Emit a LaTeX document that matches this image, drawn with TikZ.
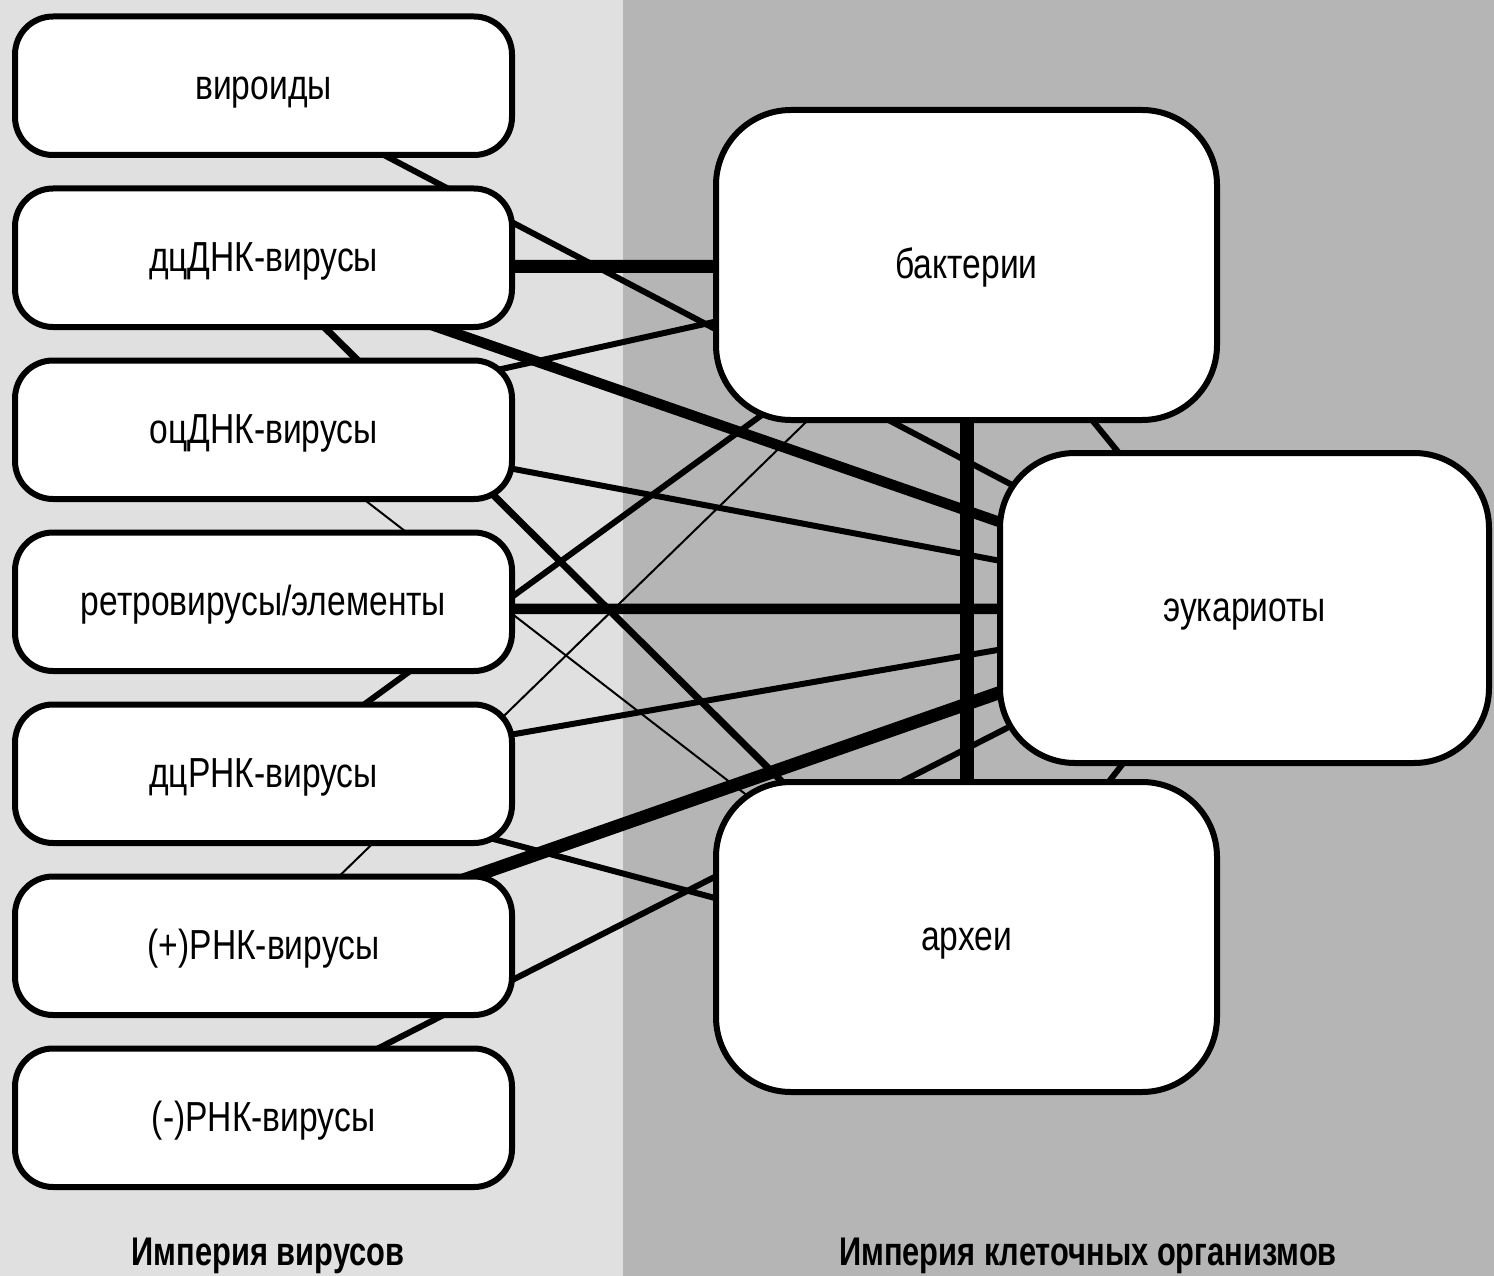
\documentclass[tikz,border=0pt]{standalone}
\usepackage{fontspec}
\setmainfont{Liberation Sans}[FakeStretch=0.80]
\newfontfamily\empirefont{Liberation Sans}[FakeStretch=0.77]
\pgfdeclarelayer{panels}
\pgfdeclarelayer{links}
\pgfsetlayers{panels,links,main}
\definecolor{virusbg}{RGB}{224,224,224}
\definecolor{cellbg}{RGB}{181,181,181}
\tikzset{
  virbox/.style={draw=black, line width=6pt, fill=white, rounded corners=38pt,
    minimum width=497pt, minimum height=138.5pt, inner sep=0pt,
    text height=28pt, text depth=0pt,
    font=\fontsize{42}{48}\selectfont},
  cellbox/.style={draw=black, line width=6pt, fill=white, rounded corners=75pt,
    minimum height=310pt, inner sep=0pt,
    text height=26pt, text depth=0pt,
    font=\fontsize{42}{48}\selectfont},
  empire/.style={font=\empirefont\bfseries\fontsize{40}{46}\selectfont, inner sep=0pt},
  lnfine/.style={draw=black, line width=2pt},
  lnmid/.style={draw=black, line width=6pt},
  lnbold/.style={draw=black, line width=10.5pt},
  lnheavy/.style={draw=black, line width=13pt}
}
\begin{document}
\begin{tikzpicture}[x=1pt,y=-1pt]
\useasboundingbox (0,0) rectangle (1494,1276);

% two empires
\begin{pgfonlayer}{panels}
  \fill[virusbg] (0,0) rectangle (623,1276);
  \fill[cellbg] (623,0) rectangle (1494,1276);
\end{pgfonlayer}

% viruses
\node[virbox] (vir)   at (263.5,85.75)   {вироиды};
\node[virbox] (ds)    at (263.5,257.75)  {дцДНК-вирусы};
\node[virbox] (ss)    at (263.5,429.75)  {оцДНК-вирусы};
\node[virbox] (retro) at (263.5,601.75)  {ретровирусы/элементы};
\node[virbox] (dsr)   at (263.5,773.75)  {дцРНК-вирусы};
\node[virbox] (plus)  at (263.5,945.75)  {(+)РНК-вирусы};
\node[virbox] (minus) at (263.5,1117.75) {(-)РНК-вирусы};

% cellular organisms
\node[cellbox, minimum width=501pt] (bac) at (966.5,265)  {бактерии};
\node[cellbox, minimum width=489pt] (euk) at (1244.5,608) {эукариоты};
\node[cellbox, minimum width=501pt] (arc) at (966.5,937)  {археи};

% links, drawn under the boxes
\begin{pgfonlayer}{links}
  \draw[lnmid]   ([yshift=-6pt]vir.center)   -- ([yshift=1pt]euk.center);
  \draw[lnheavy] ([yshift=-9pt]ds.center)    -- ([yshift=-1pt]bac.center);
  \draw[lnbold]  ([yshift=-9pt]ds.center)    -- ([yshift=1pt]euk.center);
  \draw[draw=black, line width=7pt] ([yshift=-9pt]ds.center) -- ([yshift=-28pt]arc.center);
  \draw[lnmid]   ([yshift=8pt]ss.center)     -- ([yshift=-1pt]bac.center);
  \draw[lnmid]   ([yshift=8pt]ss.center)     -- ([yshift=1pt]euk.center);
  \draw[lnfine]  ([yshift=8pt]ss.center)     -- ([yshift=-28pt]arc.center);
  \draw[lnbold]  ([yshift=-7pt]retro.center) -- ([yshift=-1pt]euk.center);
  \draw[lnmid]   ([yshift=-4pt]dsr.center)   -- ([yshift=-1pt]bac.center);
  \draw[lnmid]   ([yshift=-4pt]dsr.center)   -- ([yshift=1pt]euk.center);
  \draw[lnmid]   ([yshift=-4pt]dsr.center)   -- ([yshift=-28pt]arc.center);
  \draw[lnfine]  ([yshift=-4pt]plus.center)  -- ([yshift=-1pt]bac.center);
  \draw[lnheavy] ([yshift=-4pt]plus.center)  -- ([yshift=1pt]euk.center);
  \draw[lnmid]   ([yshift=11pt]minus.center) -- ([yshift=1pt]euk.center);
  \draw[lnmid]   ([yshift=-1pt]bac.center)   -- ([yshift=1pt]euk.center);
  \draw[draw=black, line width=14pt] ([yshift=-1pt]bac.center) -- ([yshift=-28pt]arc.center);
  \draw[lnmid]   ([yshift=-28pt]arc.center)  -- ([yshift=1pt]euk.center);
\end{pgfonlayer}

% empire captions
\node[empire, anchor=base] (lvir)  at (268,1265)  {Империя вирусов};
\node[empire, anchor=base] (lcell) at (1088,1265) {Империя клеточных организмов};
\end{tikzpicture}
\end{document}
